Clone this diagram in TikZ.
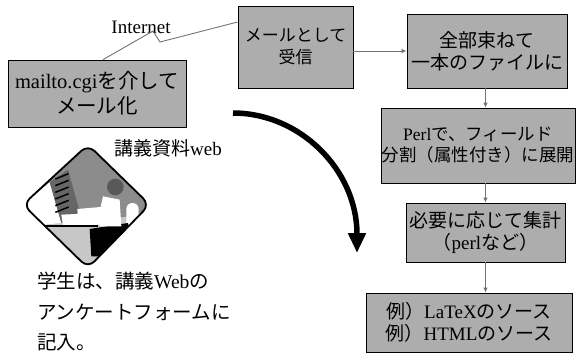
\documentclass[tikz,border=0pt]{standalone}
\usepackage{fontspec}
\setmainfont{Liberation Serif}
\newfontfamily\jpfont{Noto Sans CJK JP}
\newcommand\jp[1]{{\jpfont #1}}
\usetikzlibrary{arrows.meta,calc}

\begin{document}
\begin{tikzpicture}[x=1pt,y=-1pt,
  box/.style={draw=black,line width=0.8pt,fill=black!32,inner sep=0pt,align=center,
    font=\fontsize{19}{22}\selectfont},
  link/.style={draw=black!55,line width=0.9pt},
  flow/.style={link,-{Latex[length=5pt,width=4.5pt]}},
  bigflow/.style={line width=5.5pt,-{Triangle[length=20pt,width=17pt]}},
  label/.style={font=\fontsize{19}{22}\selectfont,inner sep=0pt}]

\useasboundingbox (0,0) rectangle (576,354);

% --- process boxes ---
\node[box,minimum width=178pt,minimum height=67pt,font=\fontsize{20.5}{25}\selectfont]
  (mailto) at (97,93.5) {mailto.cgi\jp{を介して}\\\jp{メール化}};
\node[box,minimum width=115pt,minimum height=82pt,font=\fontsize{17}{22}\selectfont]
  (recv) at (295.5,47) {\jp{メールとして}\\\jp{受信}};
\node[box,minimum width=160pt,minimum height=74pt]
  (merge) at (487,51) {\jp{全部束ねて}\\\jp{一本のファイルに}};
\node[box,minimum width=194pt,minimum height=75pt,font=\fontsize{17.5}{21}\selectfont]
  (split) at (478,145.5) {Perl\jp{で、フィールド}\\\jp{分割（属性付き）に展開}};
\node[box,minimum width=159pt,minimum height=59pt]
  (sum) at (485.5,232.5) {\jp{必要に応じて集計}\\\jp{（}perl\jp{など）}};
\node[box,minimum width=206pt,minimum height=59pt]
  (out) at (469,322.5) {\jp{例）}LaTeX\jp{のソース}\\\jp{例）}HTML\jp{のソース}};

% --- texts ---
\node[label] (inet) at (141,27) {Internet};
\node[label] (web) at (168,148) {\jp{講義資料}web};
\node[label,font=\fontsize{19.5}{30.5}\selectfont,align=left,anchor=north west]
  (student) at (37,272) {\jp{学生は、講義}Web\jp{の}\\\jp{アンケートフォームに}\\\jp{記入。}};

% --- internet link (lightning) ---
\coordinate (b1) at (153,31);
\coordinate (b2) at (160,42);
\draw[link] ([xshift=6pt]mailto.north) -- (b1) -- (b2) -- ([yshift=25pt]recv.west);

% --- flow arrows ---
\draw[flow] (merge.west -| recv.east) -- (merge.west);
\draw[flow] (merge.south -| sum.center) -- (split.north -| sum.center);
\draw[flow] (split.south -| sum.center) -- (sum.north);
\draw[flow] (sum.south) -- (out.north -| sum.center);

% --- big curved arrow ---
\coordinate (cs) at (233,113);
\coordinate (ce) at (357,253);
\draw[bigflow] (cs) .. controls (300,113) and (357,170) .. (ce);

% --- student at a computer, in a rounded diamond ---
\begin{scope}[shift={(18,143)},x=0.3333pt,y=-0.3333pt]
  \coordinate (dT) at (210,5);
  \coordinate (dR) at (395,185);
  \coordinate (dB) at (210,375);
  \coordinate (dL) at (15,185);
  \begin{scope}
    \clip[rounded corners=9pt] (dT)--(dR)--(dB)--(dL)--cycle;
    \fill[black!45] (0,0) rectangle (410,380);
    \fill[black!22] (0,248) -- (410,215) -- (410,380) -- (0,380) -- cycle;
    \fill[white] (15,185) -- (95,118) -- (130,240) -- (30,250) -- cycle;
    \fill[black!60] (95,118) -- (150,80) -- (185,205) -- (130,240) -- cycle;
    \foreach \i in {0,...,5}
      \draw[black,line width=1.5pt] (112,{108+\i*20}) -- (152,{92+\i*20});
    \fill[white] (130,215) -- (245,210) -- (245,245) -- (135,248) -- cycle;
    \draw[black,line width=2pt] (20,250) -- (240,250);
    \fill[white,rounded corners=6pt] (325,180) rectangle (362,290);
    \fill[black] (215,258) -- (330,240) -- (345,300) -- (300,340) -- (220,340) -- cycle;
    \fill[white] (255,160) -- (305,170) -- (310,250) -- (245,250) -- (240,222)
      -- (180,222) -- (178,198) -- (248,192) -- cycle;
    \fill[black!65] (292,132) circle (8.3pt);
  \end{scope}
  \draw[line width=1.8pt,rounded corners=9pt] (dT)--(dR)--(dB)--(dL)--cycle;
\end{scope}
\end{tikzpicture}
\end{document}
